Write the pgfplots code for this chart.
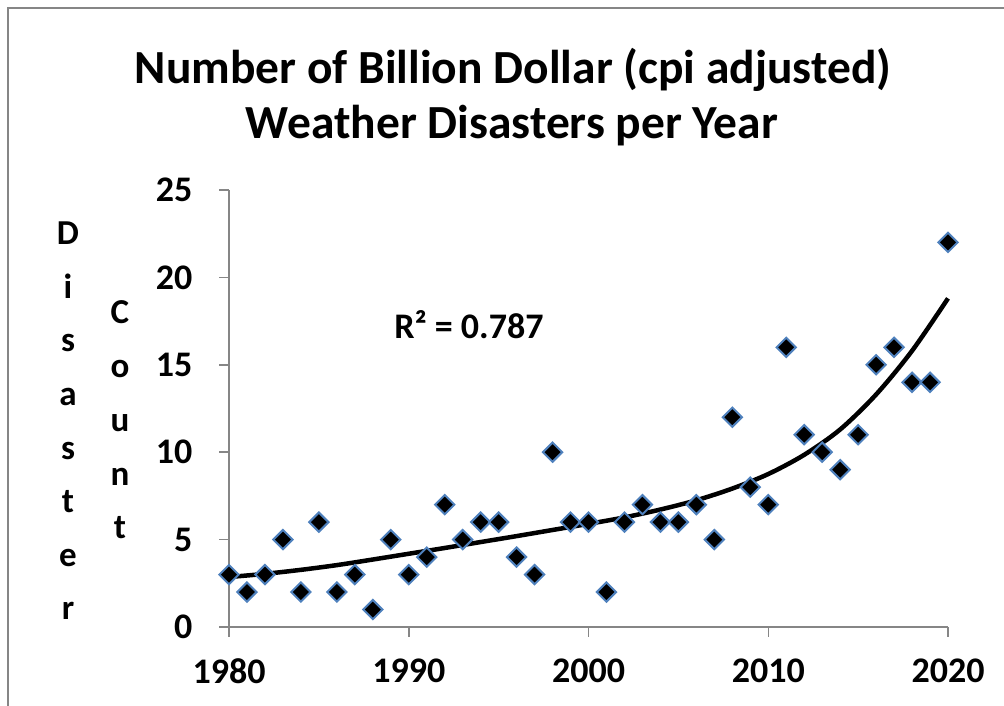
\documentclass[border=0pt]{standalone}
\usepackage{pgfplots}
\pgfplotsset{compat=1.18}
\usepackage{fontspec}
\setmainfont{Carlito}
\definecolor{axgray}{RGB}{134,134,134}
\definecolor{mkblue}{RGB}{79,129,189}
\pgfplotstableread{
year count
1980 3
1981 2
1982 3
1983 5
1984 2
1985 6
1986 2
1987 3
1988 1
1989 5
1990 3
1991 4
1992 7
1993 5
1994 6
1995 6
1996 4
1997 3
1998 10
1999 6
2000 6
2001 2
2002 6
2003 7
2004 6
2005 6
2006 7
2007 5
2008 12
2009 8
2010 7
2011 16
2012 11
2013 10
2014 9
2015 11
2016 15
2017 16
2018 14
2019 14
2020 22
}\disasters
\pgfplotstableread{
year trend
1980 2.86
1982 3.04
1984 3.27
1986 3.54
1988 3.86
1990 4.19
1992 4.52
1994 4.86
1996 5.20
1998 5.55
2000 5.90
2002 6.27
2004 6.72
2006 7.25
2008 7.92
2010 8.75
2012 9.85
2014 11.30
2016 13.30
2018 15.80
2020 18.80
}\trend
\begin{document}
\begin{tikzpicture}
\useasboundingbox (0pt,0pt) rectangle (1004pt,706pt);
\draw[axgray, line width=2.5pt] (8pt,-20pt) -- (8pt,698pt) -- (1030pt,698pt);
\node[font=\fontsize{47.5}{56}\selectfont\bfseries] at (513pt,636pt) {Number of Billion Dollar (cpi adjusted)};
\node[font=\fontsize{47.5}{56}\selectfont\bfseries] at (512pt,580pt) {Weather Disasters per Year};
\node[font=\fontsize{35}{53.6}\selectfont\bfseries, align=center] at (68pt,285pt) {D\\i\\s\\a\\s\\t\\e\\r};
\node[font=\fontsize{35}{53.8}\selectfont\bfseries, align=center] at (120pt,286pt) {C\\o\\u\\n\\t};
\begin{axis}[
  at={(229pt,79pt)}, anchor=south west,
  scale only axis, width=719pt, height=437pt,
  xmin=1980, xmax=2020, ymin=0, ymax=25,
  axis lines*=left,
  axis line style={axgray, line width=1.5pt},
  xtick={1980,1990,2000,2010,2020},
  ytick={0,5,10,15,20,25},
  tick align=outside,
  major tick length=10pt,
  tick style={axgray, line width=1.5pt},
  /pgf/number format/assume math mode=true,
  /pgf/number format/1000 sep={},
  ticklabel style={font=\fontsize{36}{42}\selectfont\bfseries},
  x tick label style={yshift=-18pt},
  y tick label style={xshift=-23pt},
  clip=false,
]
\addplot[black, line width=4.5pt, smooth] table[x=year, y=trend] {\trend};
\addplot[only marks, mark=square*, mark size=6.8pt,
  mark options={fill=black, draw=mkblue, line width=2pt, rotate=45}]
  table[x=year, y=count] {\disasters};
\node[font=\fontsize{36}{42}\selectfont\bfseries] at (axis cs:1993.35,17.28) {R² = 0.787};
\end{axis}
\end{tikzpicture}
\end{document}
